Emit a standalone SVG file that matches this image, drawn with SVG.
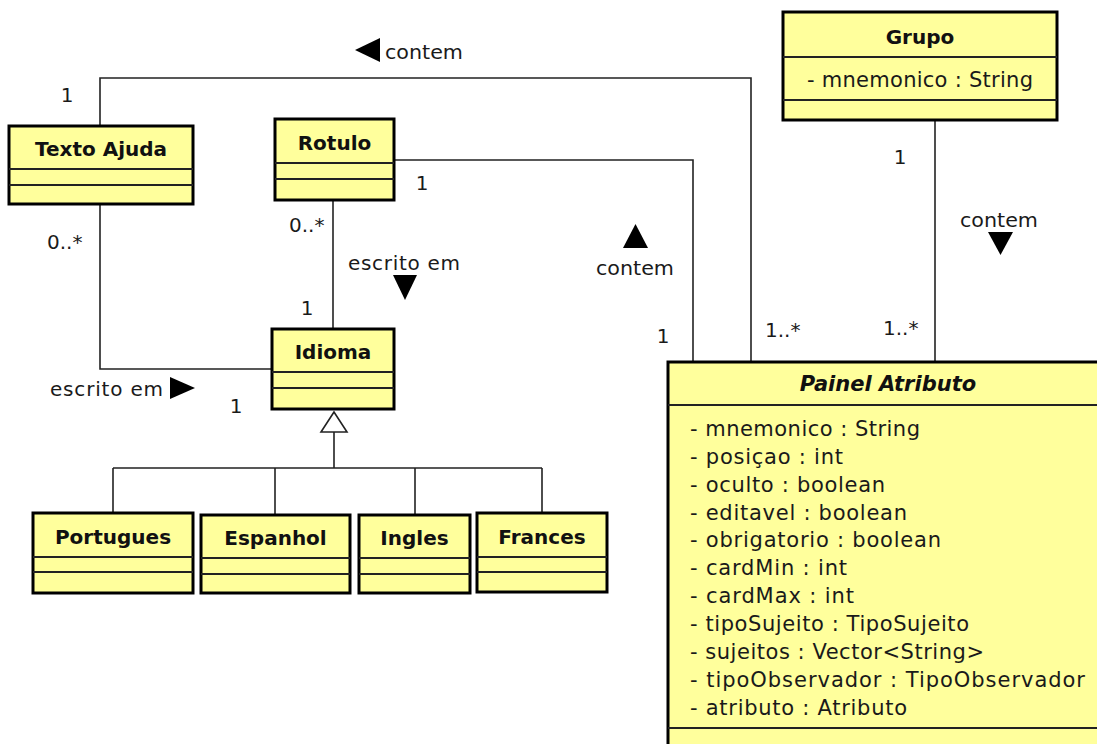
<svg xmlns="http://www.w3.org/2000/svg" width="1097" height="744" viewBox="0 0 1097 744">
<style>
.box{fill:#ffff9c;stroke:#000;stroke-width:3}
.sep{stroke:#222;stroke-width:2}
.con{fill:none;stroke:#222;stroke-width:1.6}
.t{font-family:"DejaVu Sans",sans-serif;font-size:20px;fill:#1a1a1a}
.a{font-size:21px}
.b{font-family:"DejaVu Sans",sans-serif;font-size:20px;font-weight:bold;fill:#111;text-anchor:middle}
.bi{font-style:italic;font-size:21px}
.m{text-anchor:middle}
.tri{fill:#000}
</style>
<rect width="1097" height="744" fill="#fff"/>
<g id="connectors">
<path class="con" d="M100,126 V78 H751 V362"/>
<path class="con" d="M394,160 H693 V362"/>
<path class="con" d="M935,120 V362"/>
<path class="con" d="M333,200 V329"/>
<path class="con" d="M100,204 V369 H272"/>
<path class="con" d="M334,432 V468 M113,468 H542 M113,468 V513 M275,468 V515 M415,468 V515 M542,468 V513"/>
<polygon points="334,412 321,432 347,432" fill="#fff" stroke="#222" stroke-width="1.6"/>
<text class="t m" x="67" y="102">1</text>
<polygon class="tri" points="355,50 380,38 380,62"/>
<text class="t" x="385" y="59" textLength="78" lengthAdjust="spacingAndGlyphs">contem</text>
<text class="t m" x="422" y="190">1</text>
<text class="t" x="47" y="249">0..*</text>
<text class="t" x="289" y="232">0..*</text>
<text class="t" x="348" y="270" textLength="112" lengthAdjust="spacing">escrito em</text>
<polygon class="tri" points="393,275 417,275 405,300"/>
<text class="t m" x="307" y="315">1</text>
<polygon class="tri" points="623,248 648,248 635.5,224"/>
<text class="t" x="596" y="275" textLength="78" lengthAdjust="spacingAndGlyphs">contem</text>
<text class="t m" x="663" y="343">1</text>
<text class="t" x="765" y="337">1..*</text>
<text class="t m" x="900" y="164">1</text>
<text class="t" x="960" y="227" textLength="78" lengthAdjust="spacingAndGlyphs">contem</text>
<polygon class="tri" points="988,232 1013,232 1000.5,255"/>
<text class="t" x="883" y="335">1..*</text>
<text class="t" x="50" y="396" textLength="113" lengthAdjust="spacing">escrito em</text>
<polygon class="tri" points="170,377 170,399 195,388"/>
<text class="t m" x="236" y="413">1</text>
</g>
<g id="texto-ajuda">
<rect class="box" x="9" y="126" width="184" height="78"/>
<line class="sep" x1="9" y1="169" x2="193" y2="169"/>
<line class="sep" x1="9" y1="185" x2="193" y2="185"/>
<text class="b" x="101" y="156">Texto Ajuda</text>
</g>
<g id="rotulo">
<rect class="box" x="275" y="119" width="119" height="81"/>
<line class="sep" x1="275" y1="163" x2="394" y2="163"/>
<line class="sep" x1="275" y1="179" x2="394" y2="179"/>
<text class="b" x="334.5" y="150">Rotulo</text>
</g>
<g id="grupo">
<rect class="box" x="783" y="12" width="274" height="108"/>
<line class="sep" x1="783" y1="57" x2="1057" y2="57"/>
<line class="sep" x1="783" y1="100" x2="1057" y2="100"/>
<text class="b" x="920" y="44">Grupo</text>
<text class="t a" x="807" y="87" textLength="226" lengthAdjust="spacing">- mnemonico : String</text>
</g>
<g id="idioma">
<rect class="box" x="272" y="329" width="122" height="80"/>
<line class="sep" x1="272" y1="372" x2="394" y2="372"/>
<line class="sep" x1="272" y1="388" x2="394" y2="388"/>
<text class="b" x="333" y="359">Idioma</text>
</g>
<g id="portugues">
<rect class="box" x="33" y="513" width="160" height="80"/>
<line class="sep" x1="33" y1="557" x2="193" y2="557"/>
<line class="sep" x1="33" y1="572" x2="193" y2="572"/>
<text class="b" x="113" y="544">Portugues</text>
</g>
<g id="espanhol">
<rect class="box" x="201" y="515" width="149" height="78"/>
<line class="sep" x1="201" y1="558" x2="350" y2="558"/>
<line class="sep" x1="201" y1="574" x2="350" y2="574"/>
<text class="b" x="275.5" y="545">Espanhol</text>
</g>
<g id="ingles">
<rect class="box" x="359" y="515" width="111" height="78"/>
<line class="sep" x1="359" y1="558" x2="470" y2="558"/>
<line class="sep" x1="359" y1="574" x2="470" y2="574"/>
<text class="b" x="414.5" y="545">Ingles</text>
</g>
<g id="frances">
<rect class="box" x="477" y="513" width="130" height="79"/>
<line class="sep" x1="477" y1="557" x2="607" y2="557"/>
<line class="sep" x1="477" y1="572" x2="607" y2="572"/>
<text class="b" x="542" y="544">Frances</text>
</g>
<g id="painel-atributo">
<rect class="box" x="668" y="362" width="440" height="392"/>
<line class="sep" x1="668" y1="405" x2="1097" y2="405"/>
<line class="sep" x1="668" y1="728" x2="1097" y2="728"/>
<text class="b bi" x="888" y="391">Painel Atributo</text>
<text class="t a" x="690" y="436" textLength="230" lengthAdjust="spacing">- mnemonico : String</text>
<text class="t a" x="690" y="464" textLength="153" lengthAdjust="spacing">- posiçao : int</text>
<text class="t a" x="690" y="492" textLength="195" lengthAdjust="spacing">- oculto : boolean</text>
<text class="t a" x="690" y="520" textLength="217" lengthAdjust="spacing">- editavel : boolean</text>
<text class="t a" x="690" y="547" textLength="251" lengthAdjust="spacing">- obrigatorio : boolean</text>
<text class="t a" x="690" y="575" textLength="157" lengthAdjust="spacing">- cardMin : int</text>
<text class="t a" x="690" y="603" textLength="164" lengthAdjust="spacing">- cardMax : int</text>
<text class="t a" x="690" y="631" textLength="279" lengthAdjust="spacing">- tipoSujeito : TipoSujeito</text>
<text class="t a" x="690" y="659" textLength="294" lengthAdjust="spacing">- sujeitos : Vector&lt;String&gt;</text>
<text class="t a" x="690" y="687" textLength="395" lengthAdjust="spacing">- tipoObservador : TipoObservador</text>
<text class="t a" x="690" y="715" textLength="217" lengthAdjust="spacing">- atributo : Atributo</text>
</g>
</svg>
